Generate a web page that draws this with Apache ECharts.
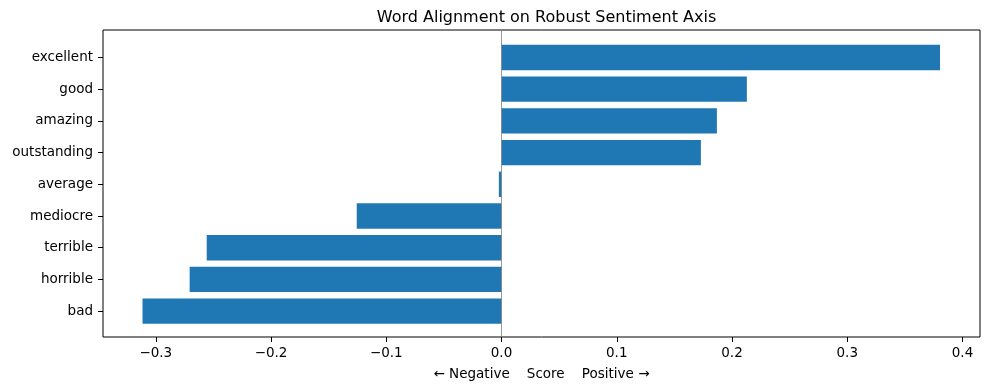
<!DOCTYPE html>
<html>
<head>
<meta charset="utf-8">
<script src="https://cdn.jsdelivr.net/npm/echarts@6/dist/echarts.min.js"></script>
<style>html,body{margin:0;padding:0;background:#fff}#c{width:989px;height:390px}</style>
</head>
<body>
<div id="c"></div>
<script>
// top-to-bottom order as shown
const words = ['excellent','good','amazing','outstanding','average','mediocre','terrible','horrible','bad'];
const scores = [0.3805, 0.2129, 0.1869, 0.1730, -0.0023, -0.1256, -0.2558, -0.2706, -0.3115];
const xTicks = [-0.3, -0.2, -0.1, 0.0, 0.1, 0.2, 0.3, 0.4];
const titleText = 'Word Alignment on Robust Sentiment Axis';
const xLabel = '\u2190 Negative    Score    Positive \u2192';

const cats = words.slice().reverse();
const vals = scores.slice().reverse();
const xMin = -0.3458, xMax = 0.4152;
const font = 'DejaVu Sans';

const chart = echarts.init(document.getElementById('c'), null, {renderer: 'canvas'});
chart.setOption({
  animation: false,
  backgroundColor: '#fff',
  title: {
    text: titleText, left: 541.5, top: 5, textAlign: 'center',
    textStyle: {fontFamily: font, fontSize: 16, fontWeight: 'normal', color: '#000'}
  },
  grid: [
    {left: 103, right: 9, top: 30, bottom: 53, show: true, borderColor: '#000', borderWidth: 1, backgroundColor: 'transparent'},
    {left: 103, right: 9, top: 41.6, bottom: 63}
  ],
  xAxis: [
    {
      gridIndex: 0, type: 'value', min: xMin, max: xMax,
      customValues: xTicks,
      axisLine: {show: false},
      axisTick: {show: true, length: 5, lineStyle: {color: '#000', width: 1}, customValues: xTicks},
      axisLabel: {
        show: true, customValues: xTicks, margin: 9, color: '#000', fontFamily: font, fontSize: 13.5,
        formatter: v => (v < 0 ? '\u2212' : '') + Math.abs(v).toFixed(1)
      },
      splitLine: {show: false},
      name: xLabel, nameLocation: 'middle', nameGap: 30,
      nameTextStyle: {fontFamily: font, fontSize: 13.5, color: '#000'}
    },
    {gridIndex: 1, type: 'value', min: xMin, max: xMax, show: false}
  ],
  yAxis: [
    {gridIndex: 0, type: 'value', min: 0, max: 1, show: false},
    {
      gridIndex: 1, type: 'category', data: cats,
      axisLine: {show: false, onZero: false},
      axisTick: {show: true, alignWithLabel: true, length: 5, lineStyle: {color: '#000'}},
      axisLabel: {margin: 10, color: '#000', fontFamily: font, fontSize: 13.5},
      splitLine: {show: false}
    }
  ],
  series: [
    {
      type: 'bar', xAxisIndex: 1, yAxisIndex: 1, data: vals,
      barCategoryGap: '20%',
      itemStyle: {color: '#1f77b4'},
      z: 2
    },
    {
      type: 'line', xAxisIndex: 0, yAxisIndex: 0, data: [],
      markLine: {
        silent: true, symbol: 'none', label: {show: false},
        lineStyle: {color: '#808080', width: 1, type: 'solid', opacity: 0.8},
        data: [{xAxis: 0}]
      },
      z: 5
    }
  ]
});
</script>
</body>
</html>
